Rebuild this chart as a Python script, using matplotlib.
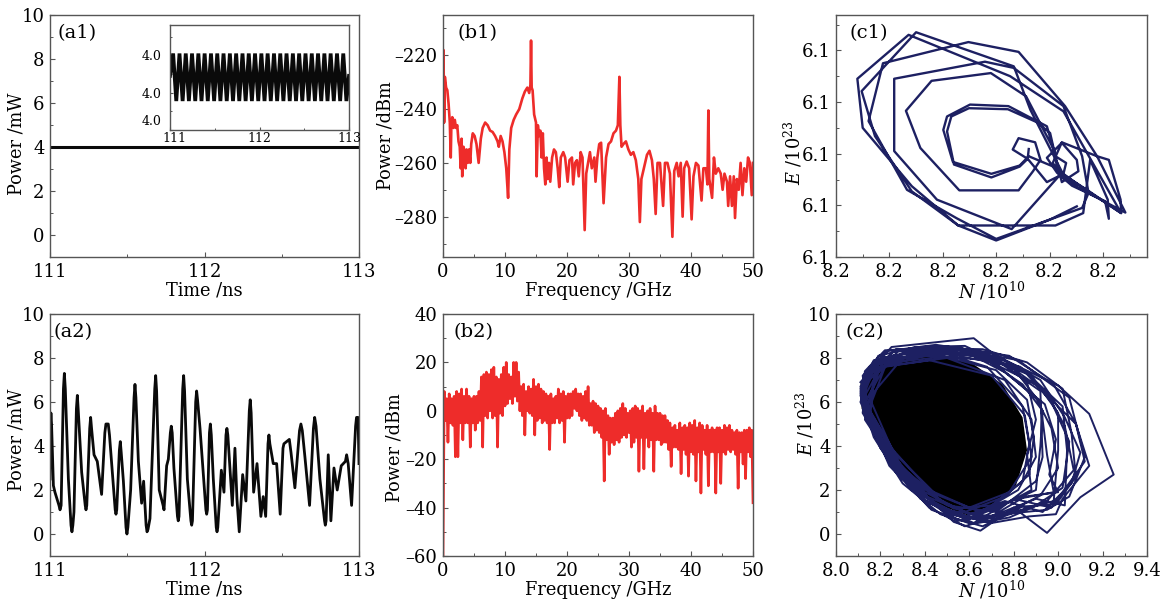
import matplotlib
matplotlib.use("Agg")
import matplotlib.pyplot as plt
from matplotlib.ticker import FormatStrFormatter, FuncFormatter, MultipleLocator
from matplotlib.transforms import ScaledTranslation

### DATA ###
A1_TIME = [111, 113]
A1_POWER = [4.0, 4.0]

INSET_TIME = [111.000, 111.035, 111.070, 111.106, 111.141, 111.176, 111.211, 111.246, 111.282, 111.317,
              111.352, 111.387, 111.422, 111.458, 111.493, 111.528, 111.563, 111.598, 111.634, 111.669,
              111.704, 111.739, 111.774, 111.810, 111.845, 111.880, 111.915, 111.950, 111.986, 112.021,
              112.056, 112.091, 112.126, 112.162, 112.197, 112.232, 112.267, 112.302, 112.338, 112.373,
              112.408, 112.443, 112.478, 112.514, 112.549, 112.584, 112.619, 112.654, 112.690, 112.725,
              112.760, 112.795, 112.830, 112.866, 112.901, 112.936, 112.971, 113.000]
INSET_POWER = [4.018, 4.042, 3.991, 4.042, 3.991, 4.042, 3.991, 4.042, 3.991, 4.042,
               3.991, 4.042, 3.991, 4.042, 3.991, 4.042, 3.991, 4.042, 3.991, 4.042,
               3.991, 4.042, 3.991, 4.042, 3.991, 4.042, 3.991, 4.042, 3.991, 4.042,
               3.991, 4.042, 3.991, 4.042, 3.991, 4.042, 3.991, 4.042, 3.991, 4.042,
               3.991, 4.042, 3.991, 4.042, 3.991, 4.042, 3.991, 4.042, 3.991, 4.042,
               3.991, 4.042, 3.991, 4.042, 3.991, 4.042, 3.991, 4.018]

A2_POINTS = [(111.000,2.5),(111.003,5.0),(111.006,5.5),(111.010,5.0),(111.022,2.2),(111.032,1.9),(111.058,1.3),(111.065,1.1),
             (111.072,1.3),(111.087,6.6),(111.093,7.3),(111.099,6.6),(111.119,2.5),(111.136,0.4),(111.142,0.1),(111.148,0.4),
             (111.155,1.0),(111.171,5.7),(111.177,6.3),(111.183,5.6),(111.205,2.8),(111.228,1.3),(111.233,1.1),(111.238,1.3),
             (111.257,4.8),(111.263,5.3),(111.269,4.8),(111.285,3.6),(111.306,3.3),(111.334,1.8),(111.355,4.6),(111.362,5.0),
             (111.377,5.0),(111.385,4.5),(111.399,3.2),(111.422,1.1),(111.427,0.9),(111.432,1.1),(111.449,3.8),(111.455,4.2),
             (111.461,3.7),(111.475,2.4),(111.492,0.3),(111.498,0.0),(111.504,0.3),(111.522,2.0),(111.544,6.2),(111.550,6.8),
             (111.556,6.2),(111.572,3.3),(111.593,1.4),(111.606,2.4),(111.622,0.4),(111.628,0.1),(111.634,0.2),(111.647,0.7),
             (111.678,6.6),(111.684,7.2),(111.690,6.5),(111.707,2.0),(111.732,1.3),(111.738,1.1),(111.755,3.1),(111.766,3.4),
             (111.779,4.6),(111.785,4.9),(111.791,4.6),(111.802,3.0),(111.825,0.8),(111.830,0.6),(111.835,0.8),(111.859,6.6),
             (111.865,7.2),(111.871,6.5),(111.889,2.5),(111.912,0.6),(111.917,0.4),(111.922,0.6),(111.943,6.0),(111.949,6.5),
             (111.955,6.1),(111.971,4.8),(112.009,1.1),(112.014,0.9),(112.019,1.1),(112.032,4.6),(112.038,5.0),(112.044,4.5),
             (112.057,2.5),(112.076,0.3),(112.081,0.1),(112.086,0.3),(112.109,2.9),(112.126,1.9),(112.139,4.5),(112.145,4.8),
             (112.151,4.5),(112.180,1.3),(112.197,3.9),(112.210,1.6),(112.225,0.1),(112.247,2.7),(112.268,1.5),(112.290,5.6),
             (112.296,6.1),(112.302,5.5),(112.318,1.9),(112.340,3.2),(112.365,0.8),(112.380,1.7),(112.396,0.8),(112.411,4.1),
             (112.417,4.5),(112.423,4.1),(112.445,3.2),(112.467,3.2),(112.490,0.9),(112.508,3.9),(112.514,4.1),(112.549,4.3),
             (112.560,3.7),(112.585,2.1),(112.615,4.7),(112.624,5.0),(112.633,4.7),(112.650,3.5),(112.680,1.3),(112.705,4.8),
             (112.713,5.3),(112.722,4.9),(112.747,2.5),(112.777,0.6),(112.782,0.4),(112.787,0.6),(112.801,3.6),(112.818,0.6),
             (112.838,3.0),(112.859,2.0),(112.885,3.1),(112.912,3.3),(112.920,3.6),(112.930,3.2),(112.952,1.3),(112.978,4.9),
             (112.984,5.3),(112.994,5.3),(113.000,3.2)]

B1_POINTS = [(0.0,-245),(0.08,-218),(0.18,-245),(0.3,-228),(0.5,-232),(0.7,-233),(0.9,-238),(1.1,-245),
             (1.25,-258),(1.35,-246),(1.5,-243),(1.7,-247),(1.9,-244),(2.1,-247),(2.3,-246),(2.5,-252),
             (2.7,-254),(2.85,-262),(3.0,-251),(3.1,-265),(3.3,-254),(3.5,-256),(3.65,-262),(3.8,-255),
             (4.0,-260),(4.2,-255),(4.4,-260),(4.55,-253),(4.8,-249),(5.1,-250),(5.4,-253),(5.75,-260),
             (6.1,-251),(6.4,-247),(6.8,-245),(7.2,-246),(7.6,-248),(8.0,-248.5),(8.4,-250),(8.8,-252),
             (9.0,-254),(9.3,-250),(9.6,-252),(9.9,-256),(10.2,-262),(10.5,-273),(10.7,-255),(11.0,-247),
             (11.4,-244),(11.8,-242),(12.3,-240),(12.8,-236),(13.2,-233.5),(13.6,-232),(13.9,-234),(14.1,-231),
             (14.2,-214.5),(14.3,-232),(14.45,-233),(14.7,-242),(15.0,-245),(15.1,-265),(15.3,-246),(15.5,-250),
             (15.7,-248),(15.9,-258),(16.1,-249),(16.3,-262),(16.5,-268),(16.7,-258),(16.9,-266),(17.1,-260),
             (17.3,-267),(17.6,-258),(17.9,-255),(18.2,-256),(18.5,-262),(18.75,-269),(19.0,-258),(19.4,-256),
             (19.7,-258),(20.1,-267),(20.4,-259),(20.8,-258),(21.0,-268),(21.3,-260),(21.6,-259),(21.9,-265),
             (22.2,-256),(22.5,-258),(22.85,-285),(23.1,-264),(23.4,-260),(23.7,-256),(24.0,-262),(24.4,-258),
             (24.6,-267),(24.9,-258),(25.2,-253),(25.5,-252.5),(25.9,-275),(26.3,-258),(26.7,-253),(27.1,-252),
             (27.5,-249),(27.9,-248),(28.2,-246),(28.45,-228),(28.6,-246),(28.8,-254),(29.1,-253),(29.5,-252),
             (29.9,-255),(30.3,-257),(30.7,-256),(31.1,-259),(31.5,-266),(31.75,-282),(32.0,-266),(32.4,-262),
             (32.9,-257),(33.3,-255.5),(33.7,-259),(34.0,-266),(34.3,-279),(34.6,-260),(35.0,-260),(35.5,-276),
             (35.8,-260),(36.2,-260),(36.6,-264),(37.0,-287.5),(37.3,-263),(37.7,-260),(38.0,-265),(38.35,-260),
             (38.65,-280),(38.9,-262),(39.3,-259.5),(39.7,-262),(40.1,-281),(40.4,-265),(40.8,-260),(41.2,-261),
             (41.7,-274),(42.0,-262),(42.4,-262),(42.65,-268),(42.8,-240.5),(42.95,-266),(43.4,-273),(43.7,-258),
             (44.0,-264),(44.4,-262),(44.8,-264),(45.1,-270),(45.4,-264),(45.8,-267),(46.0,-276),(46.3,-265),
             (46.6,-276),(46.9,-265),(47.1,-280.5),(47.4,-266),(47.7,-270),(48.0,-260),(48.3,-272),(48.6,-262),
             (48.9,-267),(49.2,-258),(49.5,-260),(49.8,-272),(50.0,-260)]

# one value per 0.2 GHz bin, 0 to 50 GHz
B2_POWER = [-60,8,-4,5,-13,7,-5,5,-6,6,
            -19,8,-19,7,-5,9,-12,6,-5,9,
            -5,6,-15,5,-5,6,-8,6,-5,8,
            -4,14,-15,15,-2,16,-3,15,0,17,
            -3,18,-2,14,-15,13,-1,15,-2,18,
            2,20,3,15,5,14,3,20,6,20,
            4,16,0,10,-2,11,-10,8,0,10,
            -1,9,-2,13,-10,10,-4,11,-3,9,
            -5,8,-4,7,-5,6,-16,7,-5,5,
            -5,6,-3,9,-5,7,-4,8,-13,6,
            -3,7,-3,7,-2,8,1,9,0,7,
            -2,7,-4,6,-3,8,-4,10,-6,3,
            -6,4,-9,3,-8,2,-9,1,-11,0,
            -29,1,-12,-2,-18,-3,-13,-3,-14,-1,
            -12,0,-13,1,-11,3,-10,1,-11,-1,
            -9,0,-15,1,-13,2,-11,1,-25,0,
            -11,2,-24,-1,-11,0,-15,1,-12,-1,
            -25,2,-12,-1,-12,-1,-14,-2,-13,-2,
            -13,-4,-16,-5,-23,-7,-15,-6,-15,-8,
            -16,-5,-26,-7,-16,-6,-18,-7,-27,-5,
            -17,-6,-18,-4,-29,-7,-17,-5,-34,-6,
            -16,-8,-18,-6,-31,-8,-17,-7,-17,-8,
            -34,-7,-17,-7,-30,-8,-17,-6,-18,-7,
            -16,-6,-17,-8,-16,-9,-18,-8,-32,-9,
            -17,-9,-22,-8,-28,-8,-17,-7,-19,-8,
            -38]

C1_POINTS = [(8.2361,6.1209),(8.2359,6.1190),(8.2344,6.1175),(8.2291,6.1154),(8.2221,6.1179),(8.2208,6.1243),
             (8.2216,6.1272),(8.2249,6.1288),(8.2322,6.1286),(8.2376,6.1261),(8.2401,6.1240),(8.2411,6.1195),
             (8.2414,6.1172),(8.2361,6.1195),(8.2344,6.1177),(8.2291,6.1161),(8.2219,6.1184),(8.2201,6.1246),
             (8.2208,6.1272),(8.2251,6.1295),(8.2323,6.1292),(8.2395,6.1253),(8.2411,6.1195),(8.2431,6.1182),
             (8.2426,6.1161),(8.2395,6.1145),(8.2376,6.1169),(8.2359,6.1190),(8.2331,6.1208),(8.2342,6.1230),
             (8.2373,6.1222),(8.2383,6.1188),(8.2369,6.1166),(8.2342,6.1129),(8.2231,6.1129),(8.2158,6.1211),
             (8.2131,6.1283),(8.2179,6.1341),(8.2290,6.1356),(8.2356,6.1311),(8.2408,6.1208),(8.2423,6.1145),
             (8.2454,6.1166),(8.2451,6.1188),(8.2423,6.1221),(8.2395,6.1192),(8.2414,6.1163),(8.2442,6.1138),
             (8.2504,6.1108),(8.2511,6.1074),(8.2509,6.1111),(8.2476,6.1188),(8.2463,6.1085),(8.2411,6.1061),
             (8.2229,6.1061),(8.2142,6.1137),(8.2050,6.1250),(8.2040,6.1345),(8.2136,6.1430),(8.2326,6.1350),
             (8.2426,6.1282),(8.2534,6.1085),(8.2458,6.1137),(8.2423,6.1163),(8.2329,6.1054),(8.2189,6.1111),
             (8.2109,6.1205),(8.2109,6.1345),(8.2279,6.1378),(8.2333,6.1366),(8.2426,6.1292),(8.2461,6.1195),
             (8.2473,6.1124),(8.2461,6.1095),(8.2300,6.1035),(8.2226,6.1075),(8.2133,6.1130),(8.2061,6.1263),
             (8.2088,6.1375),(8.2248,6.1416),(8.2342,6.1397),(8.2429,6.1292),(8.2489,6.1195),(8.2542,6.1086),
             (8.2454,6.1134),(8.2419,6.1163),(8.2406,6.1182),(8.2423,6.1222),(8.2489,6.1195),(8.2511,6.1188),
             (8.2533,6.1111),(8.2534,6.1085),(8.2470,6.1130),(8.2426,6.1159),(8.2364,6.1285),(8.2333,6.1369),
             (8.2150,6.1435),(8.2048,6.1321),(8.2073,6.1234),(8.2142,6.1127),(8.2229,6.1061),(8.2300,6.1032),
             (8.2400,6.1072),(8.2451,6.1098)]

C2_POINTS = [(8.11,6.9),(8.25,8.5),(8.62,8.9),(8.72,8.1),(9.00,6.75),(9.14,5.46),(9.25,2.7),(9.10,1.67),(8.95,0.05),(8.80,1.2),(8.65,0.15),(8.53,0.55),(8.35,2.3),(8.20,4.4),
             (8.11,6.5),(8.22,8.3),(8.45,8.6),(8.78,8.1),(8.98,6.8),(9.08,5.0),(9.14,3.1),(9.02,1.6),(8.99,0.9),(8.87,0.8),(8.70,0.5),(8.50,1.0),(8.33,2.2),(8.16,4.8),
             (8.12,7.2),(8.20,8.0),(8.50,8.5),(8.82,7.9),(9.05,6.2),(9.12,3.5),(9.05,1.7),(8.95,1.1),(8.75,0.9),(8.58,0.35),(8.42,1.2),(8.26,3.0),(8.13,5.5),
             (8.12,6.8),(8.30,8.2),(8.55,8.4),(8.85,7.4),(9.02,5.8),(9.04,3.8),(9.03,1.3),(8.90,1.6),(8.65,0.6),(8.45,1.3),(8.28,2.8),(8.12,5.5),
             (8.14,7.3),(8.35,8.2),(8.62,8.2),(8.90,6.8),(9.08,5.0),(9.12,3.3),(8.97,1.2),(8.80,1.6),(8.62,0.5),(8.40,1.5),(8.22,3.6),(8.11,6.0),
             (8.16,7.5),(8.40,8.1),(8.70,7.9),(8.92,6.0),(8.95,3.6),(8.98,1.9),(8.82,1.6),(8.60,0.9),(8.40,1.9),(8.22,4.0),(8.12,6.2),
             (8.18,7.7),(8.45,8.3),(8.75,7.7),(8.92,6.5),(8.93,3.5),(8.90,2.4),(8.72,1.0),(8.50,1.3),(8.30,3.0),(8.14,5.8),
             (8.20,7.6),(8.50,8.0),(8.76,7.0),(8.88,5.2),(8.90,3.5),(8.82,2.0),(8.65,1.0),(8.45,1.8),(8.27,3.6),(8.13,6.0),
             (8.22,7.6),(8.42,7.9),(8.70,7.2),(8.85,5.4),(8.88,3.5),(8.78,1.9),(8.60,1.2),(8.42,2.0),(8.25,3.9),(8.15,6.2),
             (8.30,8.0),(8.60,8.3),(8.88,7.2),(9.00,5.5),(9.00,3.8),(8.98,1.5),(8.80,1.0),(8.55,0.6),(8.38,1.7),(8.18,4.5),(8.11,6.6),
             (8.28,8.3),(8.52,8.3),(8.83,7.6),(8.97,6.0),(9.05,4.2),(9.02,2.1),(8.90,1.3),(8.68,0.55),(8.48,1.1),(8.30,2.6),(8.13,5.2),
             (8.24,8.1),(8.55,8.5),(8.78,7.8),(8.90,6.2),(8.97,4.8),(9.00,3.0),(8.92,1.75),(8.72,0.7),(8.52,0.85),(8.32,2.3),(8.15,5.0),
             (8.18,7.9),(8.48,8.3),(8.72,8.0),(8.86,6.9),(8.90,5.2),(8.86,3.6),(8.88,2.0),(8.75,1.3),(8.60,0.7),(8.44,1.4),(8.25,3.3),(8.12,6.2),
             (8.13,7.4),(8.22,8.35),(8.40,8.45),(8.66,8.4),(8.86,7.8),(9.02,6.6),(9.06,4.6),(9.08,2.6),(8.99,1.35),(8.84,1.25),(8.66,0.35),(8.47,0.9),(8.30,2.3),(8.17,4.4),
             (8.11,6.3),(8.19,8.1),(8.36,8.5),(8.58,8.55),(8.80,7.5),(8.95,6.4),(9.03,4.9),(9.07,2.9),(8.95,1.5),(8.78,0.75),(8.61,0.45),(8.43,1.1),(8.24,3.1),(8.12,5.9),
             (8.13,7.1),(8.27,8.4),(8.48,8.45),(8.70,8.25),(8.92,7.0),(9.03,5.3),(9.10,3.7),(9.06,2.3),(8.93,1.0),(8.76,1.5),(8.57,0.75),(8.38,1.6),(8.20,3.9),(8.11,6.4),
             (8.15,7.6),(8.32,8.3),(8.57,8.35),(8.76,7.35),(8.94,5.9),(8.99,4.3),(8.96,2.7),(9.00,1.9),(8.85,1.7),(8.70,0.8),(8.52,1.05),(8.34,2.0),(8.17,4.6),(8.11,6.7),
             (8.17,7.9),(8.38,8.35),(8.66,8.05),(8.84,6.8),(8.93,5.6),(8.92,4.0),(8.90,2.0),(8.78,1.45),(8.62,0.85),(8.46,1.55),(8.29,3.1),(8.14,5.6),
             (8.19,7.85),(8.46,8.15),(8.72,7.45),(8.86,6.1),(8.89,4.4),(8.87,2.7),(8.76,1.7),(8.58,1.0),(8.41,1.7),(8.23,3.7),(8.12,6.1),
             (8.21,7.75),(8.52,8.1),(8.68,7.6),(8.84,5.8),(8.87,4.1),(8.84,2.4),(8.70,1.3),(8.53,1.15),(8.36,2.3),(8.19,4.3),(8.12,6.5)]

# where the trajectory overlaps so much that the strokes merge into black
C2_CORE = [(8.11,6.9),(8.19,7.7),(8.26,8.0),(8.42,8.05),(8.60,7.85),(8.75,6.8),(8.84,5.3),(8.86,3.8),
           (8.81,2.2),(8.70,1.2),(8.59,0.85),(8.44,1.4),(8.32,2.2),(8.18,4.2),(8.115,5.7)]

### STYLE ###
WIDTH = 1170
HEIGHT = 604
LEFT_COLS = [50, 443, 836]
COL_WIDTHS = [309, 310, 311]
TOP_ROWS = [15, 314]
ROW_HEIGHT = 242

BLACK = "#0a0a0a"
RED = "#ee2c2a"
NAVY = "#1d2062"
FRAME = "#555555"

plt.rcParams['font.family'] = ['DejaVu Serif']
plt.rcParams['mathtext.fontset'] = 'dejavuserif'
plt.rcParams['font.size'] = 12


def makeAxes(fig, col, row):
    left = LEFT_COLS[col] / WIDTH
    bottom = 1 - (TOP_ROWS[row] + ROW_HEIGHT) / HEIGHT
    return fig.add_axes([left, bottom, COL_WIDTHS[col] / WIDTH, ROW_HEIGHT / HEIGHT])


def styleAxes(ax, xstep, ystep, labelsize=13):
    for spine in ax.spines.values():
        spine.set_color(FRAME)
        spine.set_linewidth(1.0)
    ax.xaxis.set_major_locator(MultipleLocator(xstep))
    ax.xaxis.set_minor_locator(MultipleLocator(xstep / 2))
    ax.yaxis.set_major_locator(MultipleLocator(ystep))
    ax.yaxis.set_minor_locator(MultipleLocator(ystep / 2))
    ax.tick_params(which='major', direction='in', length=3.5, width=0.8, color=FRAME, labelsize=labelsize, pad=4)
    ax.tick_params(which='minor', direction='in', length=2, width=0.7, color=FRAME)


def setLabels(ax, xlabel, ylabel, xlabel_y, ylabel_x, ylabel_y, tag, tag_x):
    ax.set_xlabel(xlabel, fontsize=12.8)
    ax.set_ylabel(ylabel, fontsize=12.8)
    ax.xaxis.label.set_va('center')
    ax.yaxis.label.set_va('center')
    ax.xaxis.set_label_coords(0.5, xlabel_y)
    ax.yaxis.set_label_coords(ylabel_x, ylabel_y)
    ax.text(tag_x, 0.925, tag, transform=ax.transAxes, fontsize=14, ha='left', va='center')


def dashLabel(value, pos):
    # the journal sets negative ticks with a short dash
    return "{0:.0f}".format(value).replace("-", "\u2013")


fig = plt.figure(figsize=(WIDTH / 100, HEIGHT / 100), dpi=100)

# (a1)
ax = makeAxes(fig, 0, 0)
ax.plot(A1_TIME, A1_POWER, color=BLACK, lw=2.2)
ax.set_xlim(111, 113)
ax.set_ylim(-1, 10)
styleAxes(ax, 1, 2)
setLabels(ax, "Time /ns", "Power /mW", -0.14, -0.107, 0.47, "(a1)", 0.023)

inset = fig.add_axes([170 / WIDTH, 1 - 130 / HEIGHT, 179 / WIDTH, 105 / HEIGHT])
inset.plot(INSET_TIME, INSET_POWER, color=BLACK, lw=2.7, solid_joinstyle='miter')
inset.set_xlim(111, 113)
inset.set_ylim(3.96, 4.0725)
styleAxes(inset, 1, 0.04, labelsize=9)
inset.tick_params(which='major', pad=1.5, length=2.5)
inset.tick_params(which='minor', length=1.5)
inset.tick_params(axis='y', which='major', pad=6)
inset.yaxis.set_major_formatter(FormatStrFormatter('%.1f'))
# end labels sit slightly inside the frame in the reference
inset.set_xticks([111, 112, 113])
inset.set_yticks([3.96, 4.0, 4.04])
first_x = inset.xaxis.get_major_ticks()[0].label1
first_x.set_transform(first_x.get_transform() + ScaledTranslation(4 / 100, 0, fig.dpi_scale_trans))
first_y = inset.yaxis.get_major_ticks()[0].label1
first_y.set_transform(first_y.get_transform() + ScaledTranslation(0, 10 / 100, fig.dpi_scale_trans))

# (a2)
ax = makeAxes(fig, 0, 1)
ax.plot([p[0] for p in A2_POINTS], [p[1] for p in A2_POINTS], color=BLACK, lw=2.0)
ax.set_xlim(111, 113)
ax.set_ylim(-1, 10)
styleAxes(ax, 1, 2)
setLabels(ax, "Time /ns", "Power /mW", -0.14, -0.107, 0.48, "(a2)", 0.012)

# (b1)
ax = makeAxes(fig, 1, 0)
ax.plot([p[0] for p in B1_POINTS], [p[1] for p in B1_POINTS], color=RED, lw=1.9)
ax.set_xlim(0, 50)
ax.set_ylim(-295, -205)
styleAxes(ax, 10, 20)
ax.yaxis.set_major_formatter(FuncFormatter(dashLabel))
setLabels(ax, "Frequency /GHz", "Power /dBm", -0.14, -0.187, 0.5, "(b1)", 0.048)

# (b2)
ax = makeAxes(fig, 1, 1)
ax.plot([i * 0.2 for i in range(len(B2_POWER))], B2_POWER, color=RED, lw=1.9)
ax.set_xlim(0, 50)
ax.set_ylim(-60, 40)
styleAxes(ax, 10, 20)
ax.yaxis.set_major_formatter(FuncFormatter(dashLabel))
setLabels(ax, "Frequency /GHz", "Power /dBm", -0.14, -0.155, 0.446, "(b2)", 0.035)

# (c1)
ax = makeAxes(fig, 2, 0)
ax.plot([p[0] for p in C1_POINTS], [p[1] for p in C1_POINTS], color=NAVY, lw=1.7)
ax.set_xlim(8.2, 8.25825)
ax.set_ylim(6.1, 6.14684)
styleAxes(ax, 0.01, 0.01)
ax.xaxis.set_major_formatter(FormatStrFormatter('%.1f'))
ax.yaxis.set_major_formatter(FormatStrFormatter('%.1f'))
setLabels(ax, "$N$ /10$^{10}$", "$E$ /10$^{23}$", -0.14, -0.138, 0.43, "(c1)", 0.042)

# (c2)
ax = makeAxes(fig, 2, 1)
ax.fill([p[0] for p in C2_CORE], [p[1] for p in C2_CORE], color="#000000", lw=0, zorder=1)
ax.plot([p[0] for p in C2_POINTS], [p[1] for p in C2_POINTS], color=NAVY, lw=1.4, zorder=2)
ax.set_xlim(8.0, 9.4)
ax.set_ylim(-1, 10)
styleAxes(ax, 0.2, 2)
ax.xaxis.set_major_formatter(FormatStrFormatter('%.1f'))
setLabels(ax, "$N$ /10$^{10}$", "$E$ /10$^{23}$", -0.14, -0.10, 0.545, "(c2)", 0.032)

fig.savefig("out.png", dpi=100)
